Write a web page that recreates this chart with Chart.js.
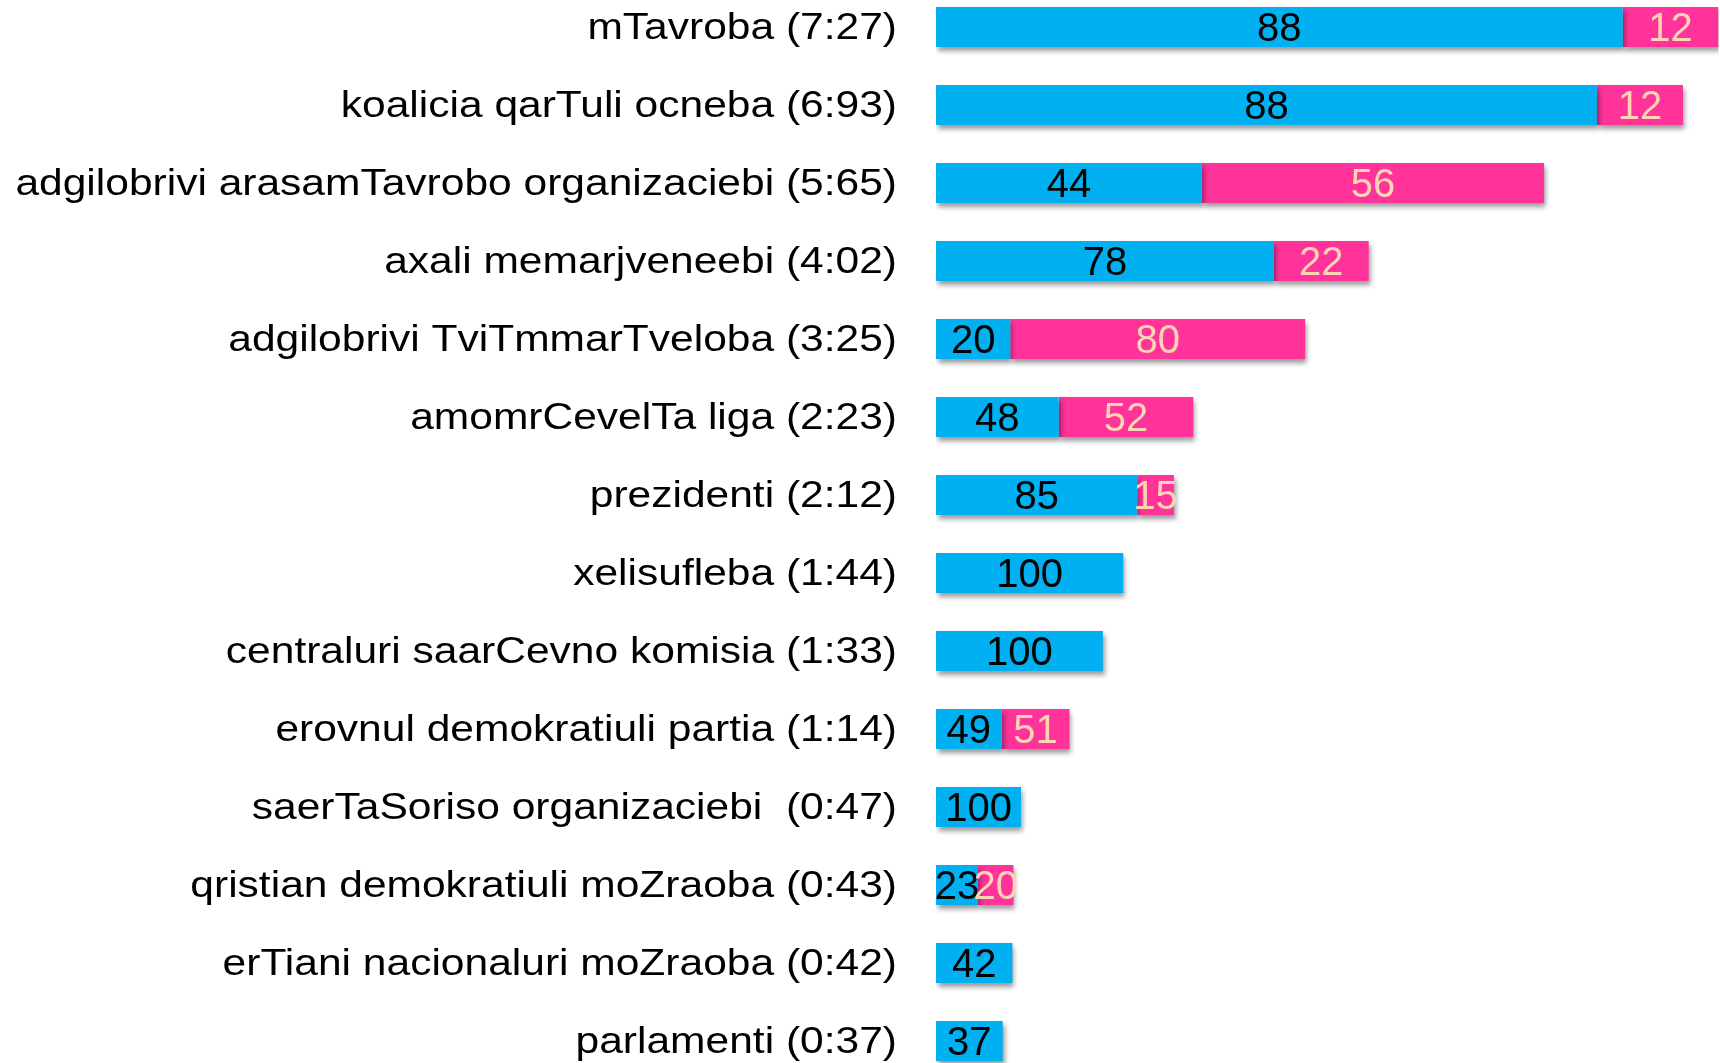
<!DOCTYPE html>
<html>
<head>
<meta charset="utf-8">
<script src="https://cdn.jsdelivr.net/npm/chart.js@4.4.1/dist/chart.umd.min.js"></script>
<style>
  html, body { margin: 0; padding: 0; background: #ffffff; overflow: hidden; width: 1720px; height: 1063px; }
  #wrap { position: absolute; left: 0; top: -12px; width: 1720px; height: 1092px; }
</style>
</head>
<body>
<div id="wrap"><canvas id="c" width="1720" height="1092"></canvas></div>
<script>
const categories = [
  'mTavroba (7:27)',
  'koalicia qarTuli ocneba (6:93)',
  'adgilobrivi arasamTavrobo organizaciebi (5:65)',
  'axali memarjveneebi (4:02)',
  'adgilobrivi TviTmmarTveloba (3:25)',
  'amomrCevelTa liga (2:23)',
  'prezidenti (2:12)',
  'xelisufleba (1:44)',
  'centraluri saarCevno komisia (1:33)',
  'erovnul demokratiuli partia (1:14)',
  'saerTaSoriso organizaciebi  (0:47)',
  'qristian demokratiuli moZraoba (0:43)',
  'erTiani nacionaluri moZraoba (0:42)',
  'parlamenti (0:37)'
];
// segment lengths (in minutes of the longest bar's scale)
const blueValues = [6.38, 6.14, 2.47, 3.14, 0.69, 1.14, 1.87, 1.74, 1.55, 0.61, 0.79, 0.39, 0.71, 0.62];
const pinkValues = [0.89, 0.80, 3.18, 0.88, 2.74, 1.25, 0.34, null, null, 0.63, null, 0.33, null, null];
// labels printed on the segments
const blueLabels = ['88', '88', '44', '78', '20', '48', '85', '100', '100', '49', '100', '23', '42', '37'];
const pinkLabels = ['12', '12', '56', '22', '80', '52', '15', '', '', '51', '', '20', '', ''];
const axisMax = 7.27;

const BLUE = '#00B0F0';
const PINK = '#FF3399';
const PEACH = '#FCD5B4';
const FONT = '"Liberation Sans", Arial, sans-serif';

const segLabels = {
  id: 'segLabels',
  beforeDatasetsDraw(chart) {
    const ctx = chart.ctx;
    ctx.save();
    ctx.shadowColor = 'rgba(0,0,0,0.40)';
    ctx.shadowBlur = 5;
    ctx.shadowOffsetX = 2;
    ctx.shadowOffsetY = 4;
  },
  afterDatasetsDraw(chart) {
    const ctx = chart.ctx;
    ctx.restore();
    ctx.save();
    ctx.font = '40px ' + FONT;
    ctx.textAlign = 'center';
    ctx.textBaseline = 'alphabetic';
    const sets = [[0, blueLabels, '#000000'], [1, pinkLabels, PEACH]];
    sets.forEach(([di, labels, color]) => {
      const meta = chart.getDatasetMeta(di);
      meta.data.forEach((el, i) => {
        const t = labels[i];
        if (!t) return;
        ctx.fillStyle = color;
        ctx.fillText(t, (el.x + el.base) / 2, el.y + 14);
      });
    });
    ctx.restore();
  },
  afterDraw(chart) {
    // category labels (slightly wide lettering, as in the reference)
    const ctx = chart.ctx;
    const ys = chart.scales.y;
    ctx.save();
    ctx.font = '36.5px ' + FONT;
    ctx.fillStyle = '#000000';
    ctx.textAlign = 'right';
    ctx.textBaseline = 'alphabetic';
    categories.forEach((c, i) => {
      const y = ys.getPixelForTick(i);
      ctx.save();
      ctx.translate(ys.right - 39, y + 12);
      ctx.scale(1.165, 1);
      ctx.fillText(c, 0, 0);
      ctx.restore();
    });
    ctx.restore();
  }
};

new Chart(document.getElementById('c'), {
  type: 'bar',
  data: {
    labels: categories,
    datasets: [
      { data: blueValues, backgroundColor: BLUE, borderWidth: 0 },
      { data: pinkValues, backgroundColor: PINK, borderWidth: 0 }
    ]
  },
  options: {
    indexAxis: 'y',
    responsive: false,
    animation: false,
    events: [],
    layout: { padding: { left: 0, right: 1.5, top: 0, bottom: 0 } },
    datasets: { bar: { categoryPercentage: 1, barPercentage: 40 / 78 } },
    plugins: { legend: { display: false }, tooltip: { enabled: false } },
    scales: {
      x: { stacked: true, display: false, min: 0, max: axisMax },
      y: {
        stacked: true,
        offset: true,
        grid: { display: false, drawTicks: false },
        border: { display: false },
        ticks: { display: false },
        afterFit(scale) {
          scale.width = 936;
          scale.paddingTop = 0;
          scale.paddingBottom = 0;
        }
      }
    }
  },
  plugins: [segLabels]
});
</script>
</body>
</html>
